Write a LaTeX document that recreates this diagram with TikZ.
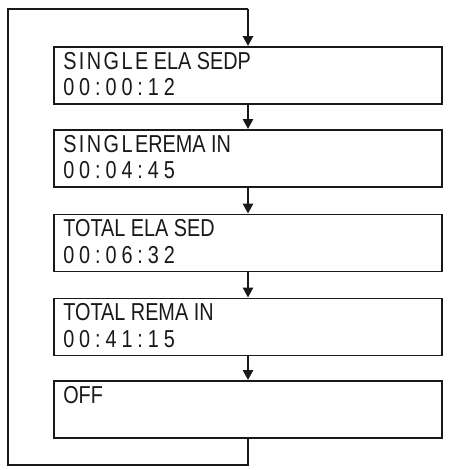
\documentclass[tikz,border=0pt]{standalone}
\usepackage{fontspec}
\usetikzlibrary{arrows.meta,calc}
\setmainfont{Liberation Sans}[FakeStretch=0.81]
\newfontfamily\spacedfont{Liberation Sans}[FakeStretch=0.81,LetterSpace=20]
\newfontfamily\lightspaced{Liberation Sans}[FakeStretch=0.81,LetterSpace=10]
\begin{document}
\begin{tikzpicture}[x=1pt,y=-1pt,
  box/.style={draw=black!90,line width=1.8pt,minimum width=388pt,minimum height=57pt,inner sep=0pt},
  txt/.style={anchor=base west,inner sep=0pt,font=\fontsize{24.5pt}{28pt}\selectfont,text=black!90},
  conn/.style={draw=black!90,line width=2.4pt,-{Triangle[width=10pt,length=10pt]}},
  loopline/.style={draw=black!90,line width=2.8pt}]
\useasboundingbox (0,0) rectangle (448,470);
\node[box] (b1) at (248,75.5) {};
\node[box] (b2) at (248,158.5) {};
\node[box] (b3) at (248,243) {};
\node[box] (b4) at (248,327) {};
\node[box] (b5) at (248,409.5) {};
\node[txt] (t1a) at ($(b1.north west)+(10,23)$) {{\lightspaced SINGLE} ELA SEDP};
\node[txt] (t1b) at ($(b1.north west)+(10,49.5)$) {\spacedfont 00:00:12};
\node[txt] (t2a) at ($(b2.north west)+(10,23)$) {{\lightspaced SINGLE}REMA IN};
\node[txt] (t2b) at ($(b2.north west)+(10,49.5)$) {\spacedfont 00:04:45};
\node[txt] (t3a) at ($(b3.north west)+(10,23)$) {TOTAL ELA SED};
\node[txt] (t3b) at ($(b3.north west)+(10,49.5)$) {\spacedfont 00:06:32};
\node[txt] (t4a) at ($(b4.north west)+(10,23)$) {TOTAL REMA IN};
\node[txt] (t4b) at ($(b4.north west)+(10,49.5)$) {\spacedfont 00:41:15};
\node[txt] (t5a) at ($(b5.north west)+(10,23)$) {OFF};
\draw[conn] (b1.south) -- (b2.north);
\draw[conn] (b2.south) -- (b3.north);
\draw[conn] (b3.south) -- (b4.north);
\draw[conn] (b4.south) -- (b5.north);
\coordinate (c1) at (248,465);
\coordinate (c2) at (8,465);
\coordinate (c3) at (8,9);
\coordinate (c4) at (248,9);
\draw[loopline,line join=miter] (b5.south) -- (c1) -- (c2) -- (c3) -- (c4);
\draw[conn] (c4) -- (b1.north);
\end{tikzpicture}
\end{document}
